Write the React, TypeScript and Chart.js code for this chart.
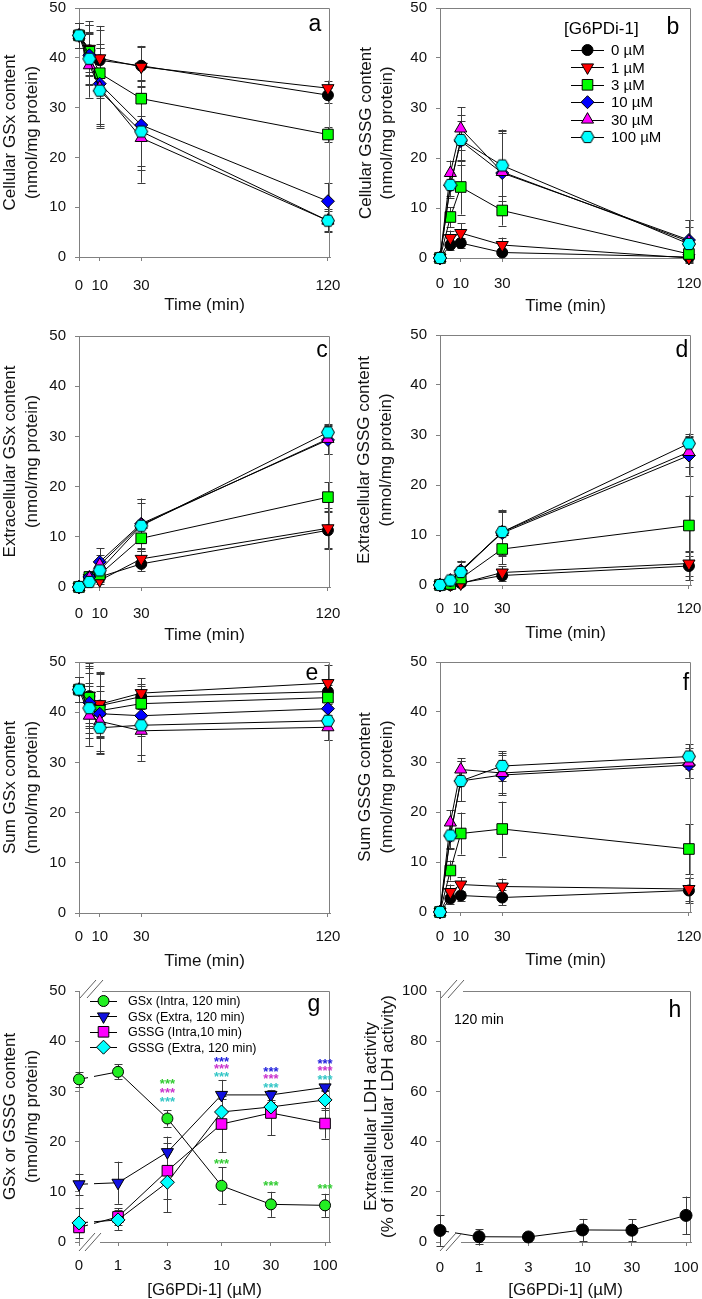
import React, { useEffect, useRef } from "react";
import { Chart, registerables } from "chart.js";

Chart.register(...registerables);

const FONT = "'Liberation Sans', Arial, Helvetica, sans-serif";
Chart.defaults.font.family = FONT;

// ---------- shared categories ----------
const TIMES = [0, 5, 10, 30, 120];
const TIME_TICKS = [0, 10, 30, 120];
const DOSE_LABELS = ["0 µM", "1 µM", "3 µM", "10 µM", "30 µM", "100 µM"];
const DOSE_COLORS = ["#000000", "#ff0000", "#00ff00", "#0000ff", "#ff00ff", "#00ffff"];
const CONC = [0, 1, 3, 10, 30, 100];
const CONC_TICK_LABELS = ["0", "1", "3", "10", "30", "100"];

// ---------- panel a: cellular GSx ----------
const A_MEAN = [
  [44.5, 41.5, 39.5, 38.4, 32.5],
  [44.5, 41.8, 39.9, 38.2, 33.9],
  [44.5, 41.2, 36.9, 31.8, 24.6],
  [44.5, 40.5, 34.8, 26.5, 11.2],
  [44.5, 38.5, 34.0, 23.9, 7.3],
  [44.5, 39.8, 33.4, 25.2, 7.3],
];
const A_SD = [
  [2.5, 5, 6, 4, 1.5],
  [2.5, 5.5, 6.5, 4, 1.5],
  [2.5, 4, 5, 3.5, 1.5],
  [2.5, 6, 8, 9, 3.7],
  [2.5, 6.5, 8, 9, 2.3],
  [2.5, 5, 7, 7, 2],
];

// ---------- panel b: cellular GSSG ----------
const B_MEAN = [
  [0, 2.6, 3.0, 1.1, 0.2],
  [0, 4.0, 5.0, 2.6, 0.0],
  [0, 8.2, 14.2, 9.5, 0.8],
  [0, 14.5, 23.4, 17.0, 3.6],
  [0, 17.0, 25.9, 17.2, 3.3],
  [0, 14.6, 23.6, 18.5, 2.8],
];
const B_SD = [
  [0, 1, 1, 0.5, 0.3],
  [0, 1.5, 2, 1.5, 0.5],
  [0, 2, 5.5, 3, 0.6],
  [0, 2, 4, 8, 4],
  [0, 2.5, 4.3, 8.5, 4.3],
  [0, 2.5, 5, 7, 3.5],
];

// ---------- panel c: extracellular GSx ----------
const C_MEAN = [
  [0, 1.8, 2.0, 4.6, 11.3],
  [0, 1.8, 1.3, 5.6, 11.7],
  [0, 2.0, 2.5, 9.7, 17.9],
  [0, 2.0, 5.0, 12.6, 29.3],
  [0, 1.8, 4.4, 12.4, 29.5],
  [0, 1.0, 3.3, 12.2, 30.8],
];
const C_SD = [
  [0, 0.5, 0.8, 1.5, 3.8],
  [0, 0.5, 0.8, 1.5, 4],
  [0, 0.8, 1.5, 2.5, 3],
  [0, 1, 2.7, 5, 2.8],
  [0, 1, 2, 5.2, 3],
  [0, 0.8, 2, 4.5, 1.5],
];

// ---------- panel d: extracellular GSSG ----------
const D_MEAN = [
  [0, 0.0, 0.4, 1.9, 3.8],
  [0, 0.1, 0.3, 2.5, 4.3],
  [0, 0.2, 1.3, 7.2, 11.9],
  [0, 0.9, 2.9, 10.4, 25.9],
  [0, 0.9, 2.8, 10.6, 26.6],
  [0, 0.9, 2.6, 10.6, 28.3],
];
const D_SD = [
  [0, 0.2, 0.3, 1, 2.8],
  [0, 0.2, 0.4, 1.2, 2.5],
  [0, 0.3, 1, 3, 6],
  [0, 0.5, 2, 4.5, 4],
  [0, 0.5, 2, 4.5, 3],
  [0, 0.5, 2, 4, 2],
];

// ---------- panel e: sum GSx ----------
const E_MEAN = [
  [44.5, 43.2, 41.3, 43.1, 44.1],
  [44.5, 43.3, 41.6, 43.8, 45.8],
  [44.5, 42.9, 40.3, 41.7, 42.9],
  [44.5, 41.9, 39.7, 39.3, 40.7],
  [44.5, 39.3, 38.2, 36.3, 37.0],
  [44.5, 40.8, 36.9, 37.4, 38.3],
];
const E_SD = [
  [2.5, 6, 6.5, 2.5, 2.5],
  [2.5, 6.5, 6.5, 3, 3.7],
  [2.5, 5, 5, 3.5, 2.5],
  [2.5, 7, 8, 4, 2.5],
  [2.5, 6, 6, 6, 2.5],
  [2.5, 5, 5, 6, 3.8],
];

// ---------- panel f: sum GSSG ----------
const F_MEAN = [
  [0, 2.7, 3.3, 2.9, 4.3],
  [0, 4.0, 5.5, 5.1, 4.6],
  [0, 8.3, 15.7, 16.6, 12.6],
  [0, 15.2, 26.2, 27.4, 29.4],
  [0, 17.9, 28.5, 27.8, 29.9],
  [0, 15.3, 26.2, 29.2, 31.1],
];
const F_SD = [
  [0, 1, 1, 1.5, 2.5],
  [0, 1.5, 1.5, 1.6, 2.3],
  [0, 2, 4.2, 5.5, 5],
  [0, 2.5, 4, 4, 2.5],
  [0, 2.5, 2.3, 4, 3],
  [0, 2.5, 4, 3, 2.5],
];

// ---------- panel g: concentration dependence ----------
const G_LABELS = ["GSx (Intra, 120 min)", "GSx (Extra, 120 min)", "GSSG (Intra,10 min)", "GSSG (Extra, 120 min)"];
const G_COLORS = ["#22ee22", "#1010e0", "#ff00ff", "#00ffff"];
const G_GSX_INTRA = [32.4, 33.9, 24.6, 11.2, 7.5, 7.3];
const G_GSX_INTRA_SD = [1.5, 1.5, 1.6, 3.7, 2.5, 2.3];
const G_GSX_EXTRA = [11.5, 11.8, 17.9, 29.3, 29.3, 30.8];
const G_GSX_EXTRA_SD = [2.1, 4.2, 3.1, 3.0, 1.0, 0.7];
const G_GSSG_INTRA = [2.9, 5.0, 14.2, 23.5, 25.7, 23.6];
const G_GSSG_INTRA_SD = [1.0, 1.7, 5.6, 5.6, 4.4, 3.0];
const G_GSSG_EXTRA = [3.8, 4.4, 11.9, 25.9, 26.9, 28.3];
const G_GSSG_EXTRA_SD = [3.0, 2.0, 6.0, 2.5, 1.0, 2.0];

const STAR_CONC = [3, 10, 30, 100];
const STAR_Y_GREEN = [31.9, 16.1, 11.6, 11.0];
const STAR_Y_MAGENTA = [30.2, 35.0, 32.9, 34.5];
const STAR_Y_CYAN = [28.5, 33.3, 31.1, 32.8];
const STAR_CONC_BLUE = [10, 30, 100];
const STAR_Y_BLUE = [36.4, 34.3, 36.0];

// ---------- panel h: LDH ----------
const H_LDH = [4.6, 2.1, 2.0, 4.8, 4.7, 10.6];
const H_LDH_SD = [6.0, 3.0, 0.6, 4.4, 4.4, 7.5];

// ---------- markers ----------
type Marker = { style: string; rot: number; radius: number };
const M_CIRCLE: Marker = { style: "circle", rot: 0, radius: 5.5 };
const M_DOWN: Marker = { style: "triangle", rot: 180, radius: 7 };
const M_UP: Marker = { style: "triangle", rot: 0, radius: 7 };
const M_SQUARE: Marker = { style: "rect", rot: 0, radius: 7.5 };
const M_DIAMOND: Marker = { style: "rectRot", rot: 0, radius: 6.5 };
const M_HEX: Marker = { style: "hex", rot: 0, radius: 6.5 };
const DOSE_MARKERS = [M_CIRCLE, M_DOWN, M_SQUARE, M_DIAMOND, M_UP, M_HEX];

const ZERO_POS = -0.377;
const logPos = (c: number) => (c === 0 ? ZERO_POS : Math.log10(c));

function makeHex(fill: string, r: number) {
  const s = Math.ceil(r * 2 + 3);
  const c = document.createElement("canvas");
  c.width = s;
  c.height = s;
  const ctx = c.getContext("2d")!;
  ctx.beginPath();
  for (let k = 0; k < 6; k++) {
    const a = (Math.PI / 3) * k;
    const px = s / 2 + r * Math.cos(a);
    const py = s / 2 + r * Math.sin(a);
    if (k) ctx.lineTo(px, py);
    else ctx.moveTo(px, py);
  }
  ctx.closePath();
  ctx.fillStyle = fill;
  ctx.fill();
  ctx.lineWidth = 1;
  ctx.strokeStyle = "#000";
  ctx.stroke();
  return c;
}

function drawMarker(ctx: CanvasRenderingContext2D, m: Marker, color: string, x: number, y: number) {
  if (m.style === "hex") {
    const img = makeHex(color, m.radius);
    ctx.drawImage(img, x - img.width / 2, y - img.height / 2);
    return;
  }
  ctx.save();
  ctx.translate(x, y);
  ctx.rotate((m.rot * Math.PI) / 180);
  ctx.beginPath();
  const r = m.radius;
  if (m.style === "circle") ctx.arc(0, 0, r, 0, Math.PI * 2);
  else if (m.style === "triangle") {
    for (let k = 0; k < 3; k++) {
      const a = (k * 2 * Math.PI) / 3;
      if (k) ctx.lineTo(Math.sin(a) * r, -Math.cos(a) * r);
      else ctx.moveTo(Math.sin(a) * r, -Math.cos(a) * r);
    }
    ctx.closePath();
  } else if (m.style === "rect") {
    const s = r * Math.SQRT1_2;
    ctx.rect(-s, -s, 2 * s, 2 * s);
  } else {
    ctx.moveTo(-r, 0);
    ctx.lineTo(0, -r);
    ctx.lineTo(r, 0);
    ctx.lineTo(0, r);
    ctx.closePath();
  }
  ctx.fillStyle = color;
  ctx.fill();
  ctx.strokeStyle = "#000";
  ctx.lineWidth = 1;
  ctx.stroke();
  ctx.restore();
}

// ---------- panel configs ----------
type Series = { label: string; color: string; marker: Marker; mean: number[]; sd: number[] };
type Panel = {
  id: string;
  col: number;
  area: number[]; // abs l, t, r, b
  xKind: "time" | "conc";
  yMax: number;
  yStep: number;
  yTitle: string[];
  yTitlePad: number;
  yTitleLH: number;
  xTitle: string;
  tickPad: number;
  series: Series[];
  letter: string;
  letterXY: number[];
  legend?: { title?: string; titleXY?: number[]; x0: number; x1: number; textX: number; y0: number; dy: number; font: number };
  breakAxis?: boolean;
  stars?: { conc: number[]; y: number[]; color: string }[];
  note?: { text: string; x: number; y: number };
};

const doseSeries = (means: number[][], sds: number[][]): Series[] =>
  means.map((m, i) => ({ label: DOSE_LABELS[i], color: DOSE_COLORS[i], marker: DOSE_MARKERS[i], mean: m, sd: sds[i] }));

const TIME_TITLE = "Time (min)";
const CONC_TITLE = "[G6PDi-1] (µM)";

const PANELS: Panel[] = [
  {
    id: "a", col: 0, area: [79, 8, 330, 257], xKind: "time", yMax: 50, yStep: 10,
    yTitle: ["Cellular GSx content", "(nmol/mg protein)"], yTitlePad: 0, yTitleLH: 1.25, tickPad: 16,
    xTitle: TIME_TITLE, series: doseSeries(A_MEAN, A_SD), letter: "a", letterXY: [315, 31],
  },
  {
    id: "b", col: 1, area: [440, 8, 691, 258], xKind: "time", yMax: 50, yStep: 10,
    yTitle: ["Cellular GSSG content", "(nmol/mg protein)"], yTitlePad: 4.4, yTitleLH: 1.25, tickPad: 13,
    xTitle: TIME_TITLE, series: doseSeries(B_MEAN, B_SD), letter: "b", letterXY: [673, 34],
    legend: { title: "[G6PDi-1]", titleXY: [564, 29], x0: 571, x1: 604, textX: 611, y0: 50, dy: 17.4, font: 15 },
  },
  {
    id: "c", col: 0, area: [79, 336, 330, 587], xKind: "time", yMax: 50, yStep: 10,
    yTitle: ["Extracellular GSx content", "(nmol/mg protein)"], yTitlePad: 0, yTitleLH: 1.25, tickPad: 14,
    xTitle: TIME_TITLE, series: doseSeries(C_MEAN, C_SD), letter: "c", letterXY: [322, 357],
  },
  {
    id: "d", col: 1, area: [440, 335, 691, 585], xKind: "time", yMax: 50, yStep: 10,
    yTitle: ["Extracellular GSSG content", "(nmol/mg protein)"], yTitlePad: 3, yTitleLH: 1.25, tickPad: 11,
    xTitle: TIME_TITLE, series: doseSeries(D_MEAN, D_SD), letter: "d", letterXY: [682, 357],
  },
  {
    id: "e", col: 0, area: [79, 662, 330, 913], xKind: "time", yMax: 50, yStep: 10,
    yTitle: ["Sum GSx content", "(nmol/mg protein)"], yTitlePad: 0, yTitleLH: 1.25, tickPad: 11,
    xTitle: TIME_TITLE, series: doseSeries(E_MEAN, E_SD), letter: "e", letterXY: [312, 680],
  },
  {
    id: "f", col: 1, area: [440, 662, 691, 912], xKind: "time", yMax: 50, yStep: 10,
    yTitle: ["Sum GSSG content", "(nmol/mg protein)"], yTitlePad: 4, yTitleLH: 1.25, tickPad: 12,
    xTitle: TIME_TITLE, series: doseSeries(F_MEAN, F_SD), letter: "f", letterXY: [686, 690],
  },
  {
    id: "g", col: 0, area: [79, 991, 330, 1242], xKind: "conc", yMax: 50, yStep: 10,
    yTitle: ["GSx or GSSG content", "(nmol/mg protein)"], yTitlePad: 0, yTitleLH: 1.25, tickPad: 11,
    xTitle: CONC_TITLE,
    series: [
      { label: G_LABELS[0], color: G_COLORS[0], marker: M_CIRCLE, mean: G_GSX_INTRA, sd: G_GSX_INTRA_SD },
      { label: G_LABELS[1], color: G_COLORS[1], marker: M_DOWN, mean: G_GSX_EXTRA, sd: G_GSX_EXTRA_SD },
      { label: G_LABELS[2], color: G_COLORS[2], marker: M_SQUARE, mean: G_GSSG_INTRA, sd: G_GSSG_INTRA_SD },
      { label: G_LABELS[3], color: G_COLORS[3], marker: { style: "rectRot", rot: 0, radius: 7 }, mean: G_GSSG_EXTRA, sd: G_GSSG_EXTRA_SD },
    ],
    letter: "g", letterXY: [314, 1011],
    legend: { x0: 90, x1: 117, textX: 128, y0: 1001, dy: 15.4, font: 12.5 },
    breakAxis: true,
    stars: [
      { conc: STAR_CONC, y: STAR_Y_GREEN, color: "#33cc33" },
      { conc: STAR_CONC, y: STAR_Y_MAGENTA, color: "#cc33cc" },
      { conc: STAR_CONC, y: STAR_Y_CYAN, color: "#33c6c6" },
      { conc: STAR_CONC_BLUE, y: STAR_Y_BLUE, color: "#2222dd" },
    ],
  },
  {
    id: "h", col: 1, area: [440, 991, 691, 1242], xKind: "conc", yMax: 100, yStep: 20,
    yTitle: ["Extracellular LDH activity", "(% of initial cellular LDH activity)"], yTitlePad: 11.5, yTitleLH: 1.0, tickPad: 13,
    xTitle: CONC_TITLE,
    series: [{ label: "LDH", color: "#000000", marker: { style: "circle", rot: 0, radius: 6 }, mean: H_LDH, sd: H_LDH_SD }],
    letter: "h", letterXY: [675, 1017],
    breakAxis: true,
    note: { text: "120 min", x: 454, y: 1020 },
  },
];

const PAD_T = 20;
const X_H = 66;

function geom(p: Panel) {
  const [L, T, R, B] = p.area;
  const cLeft = p.col * 351;
  const cTop = T - PAD_T;
  const W = 351;
  const H = B - T + PAD_T + X_H;
  return { L, T, R, B, cLeft, cTop, W, H };
}

function makePlugin(p: Panel) {
  const g = geom(p);
  const xs = p.xKind === "time" ? TIMES : CONC.map(logPos);
  return {
    id: "deco_" + p.id,
    beforeDatasetsDraw(chart: any) {
      const ctx = chart.ctx as CanvasRenderingContext2D;
      const xS = chart.scales.x;
      const yS = chart.scales.y;
      ctx.save();
      ctx.strokeStyle = "#3c3c3c";
      ctx.lineWidth = 1;
      p.series.forEach((s) => {
        s.mean.forEach((m, j) => {
          const sd = s.sd[j];
          if (!sd) return;
          const x = Math.round(xS.getPixelForValue(xs[j])) + 0.5;
          const y1 = yS.getPixelForValue(m + sd);
          const y2 = yS.getPixelForValue(m - sd);
          ctx.beginPath();
          ctx.moveTo(x, y1);
          ctx.lineTo(x, y2);
          ctx.moveTo(x - 4, Math.round(y1) + 0.5);
          ctx.lineTo(x + 4, Math.round(y1) + 0.5);
          ctx.moveTo(x - 4, Math.round(y2) + 0.5);
          ctx.lineTo(x + 4, Math.round(y2) + 0.5);
          ctx.stroke();
        });
      });
      // frame (top + right)
      const a = chart.chartArea;
      ctx.strokeStyle = "#808080";
      ctx.beginPath();
      const tY = Math.round(a.top) + 0.5;
      const rX = Math.round(a.right) - 0.5;
      ctx.moveTo(a.left, tY);
      ctx.lineTo(rX, tY);
      ctx.lineTo(rX, a.bottom);
      ctx.stroke();
      ctx.restore();
    },
    afterDraw(chart: any) {
      const ctx = chart.ctx as CanvasRenderingContext2D;
      const a = chart.chartArea;
      const ox = g.cLeft;
      const oy = g.cTop;
      ctx.save();
      if (p.breakAxis) {
        const l = a.left;
        const t = a.top;
        const b = a.bottom;
        ctx.fillStyle = "#ffffff";
        ctx.fillRect(l + 9, t - 2, 6, b - t + 4);
        ctx.fillRect(l + 1, t - 2, 22, 4);
        ctx.fillRect(l + 1, b - 2, 20, 4);
        ctx.strokeStyle = "#606060";
        ctx.lineWidth = 1;
        const slash = (x: number, y: number) => {
          ctx.beginPath();
          ctx.moveTo(x - 8, y + 9);
          ctx.lineTo(x + 8, y - 9);
          ctx.stroke();
        };
        slash(l + 9, t - 2);
        slash(l + 16, t - 2);
        slash(l + 8, b);
        slash(l + 14, b);
      }
      // legend
      if (p.legend) {
        const lg = p.legend;
        ctx.fillStyle = "#000";
        ctx.textBaseline = "middle";
        ctx.textAlign = "left";
        if (lg.title && lg.titleXY) {
          ctx.font = `17px ${FONT}`;
          ctx.fillText(lg.title, lg.titleXY[0] - ox, lg.titleXY[1] - oy);
        }
        p.series.forEach((s, i) => {
          const y = lg.y0 + i * lg.dy - oy;
          ctx.strokeStyle = "#000";
          ctx.lineWidth = 1;
          ctx.beginPath();
          ctx.moveTo(lg.x0 - ox, Math.round(y) + 0.5);
          ctx.lineTo(lg.x1 - ox, Math.round(y) + 0.5);
          ctx.stroke();
          drawMarker(ctx, s.marker, s.color, (lg.x0 + lg.x1) / 2 - ox, y);
          ctx.fillStyle = "#000";
          ctx.font = `${lg.font}px ${FONT}`;
          ctx.fillText(s.label, lg.textX - ox, y + 1);
        });
      }
      // stars
      if (p.stars) {
        const xS = chart.scales.x;
        const yS = chart.scales.y;
        ctx.font = `bold 13px ${FONT}`;
        ctx.textAlign = "center";
        ctx.textBaseline = "middle";
        p.stars.forEach((st) => {
          ctx.fillStyle = st.color;
          st.conc.forEach((c, k) => {
            ctx.fillText("***", xS.getPixelForValue(logPos(c)), yS.getPixelForValue(st.y[k]) + 3);
          });
        });
      }
      if (p.note) {
        ctx.fillStyle = "#000";
        ctx.font = `14px ${FONT}`;
        ctx.textAlign = "left";
        ctx.textBaseline = "middle";
        ctx.fillText(p.note.text, p.note.x - ox, p.note.y - oy);
      }
      // panel letter
      ctx.fillStyle = "#000";
      ctx.font = `23px ${FONT}`;
      ctx.textAlign = "center";
      ctx.textBaseline = "alphabetic";
      ctx.fillText(p.letter, p.letterXY[0] - ox, p.letterXY[1] - oy);
      ctx.restore();
    },
  };
}

function buildChart(canvas: HTMLCanvasElement, p: Panel) {
  const g = geom(p);
  const xs = p.xKind === "time" ? TIMES : CONC.map(logPos);
  const xMin = p.xKind === "time" ? 0 : ZERO_POS;
  const xMax = p.xKind === "time" ? 121 : 2.048;
  const tickVals = p.xKind === "time" ? TIME_TICKS : CONC.map(logPos);
  const tickLabels = p.xKind === "time" ? TIME_TICKS.map(String) : CONC_TICK_LABELS;
  const n = p.series.length;
  const datasets = p.series.map((s, i) => ({
    label: s.label,
    data: s.mean.map((v, j) => ({ x: xs[j], y: v })),
    borderColor: "#000000",
    borderWidth: 1,
    pointStyle: s.marker.style === "hex" ? makeHex(s.color, s.marker.radius) : s.marker.style,
    pointRotation: s.marker.rot,
    pointRadius: s.marker.radius,
    pointHoverRadius: s.marker.radius,
    pointBackgroundColor: s.color,
    pointBorderColor: "#000000",
    pointBorderWidth: 1,
    tension: 0,
    fill: false,
    clip: false,
    order: n - 1 - i,
  }));
  const gridCfg = { display: true, drawOnChartArea: false, drawTicks: true, tickLength: 4, color: "#808080" };
  const borderCfg = { display: true, color: "#808080", width: 1 };
  return new Chart(canvas, {
    type: "line",
    data: { datasets },
    options: {
      animation: false,
      responsive: false,
      maintainAspectRatio: false,
      devicePixelRatio: 1,
      events: [],
      layout: { padding: { left: 0, top: PAD_T, right: g.W - (g.R - g.cLeft), bottom: 0 } },
      plugins: { legend: { display: false }, tooltip: { enabled: false }, title: { display: false } },
      scales: {
        x: {
          type: "linear",
          min: xMin,
          max: xMax,
          afterFit: (s: any) => {
            s.height = X_H;
            s.paddingLeft = 0;
            s.paddingRight = 0;
          },
          afterBuildTicks: (s: any) => {
            s.ticks = tickVals.map((v) => ({ value: v }));
          },
          ticks: {
            autoSkip: false,
            maxRotation: 0,
            padding: p.tickPad,
            color: "#111",
            font: { size: 15, family: FONT },
            callback: (_v: any, i: number) => tickLabels[i],
          },
          grid: gridCfg,
          border: borderCfg,
          title: {
            display: true,
            text: p.xTitle,
            color: "#111",
            font: { size: 17, family: FONT, lineHeight: 1.2 },
            padding: { top: 0, bottom: 7 },
          },
        },
        y: {
          type: "linear",
          min: 0,
          max: p.yMax,
          afterFit: (s: any) => {
            s.width = g.L - g.cLeft;
            s.paddingTop = 0;
            s.paddingBottom = 0;
          },
          ticks: {
            stepSize: p.yStep,
            padding: 9,
            color: "#111",
            font: { size: 15, family: FONT },
          },
          grid: gridCfg,
          border: borderCfg,
          title: {
            display: true,
            text: p.yTitle,
            color: "#111",
            font: { size: 17, family: FONT, lineHeight: p.yTitleLH },
            padding: { top: p.yTitlePad, bottom: 0 },
          },
        },
      },
    },
    plugins: [makePlugin(p)],
  } as any);
}

function PanelChart({ p }: { p: Panel }) {
  const ref = useRef<HTMLCanvasElement | null>(null);
  const g = geom(p);
  useEffect(() => {
    const chart = buildChart(ref.current!, p);
    return () => chart.destroy();
  }, []);
  return (
    <canvas
      ref={ref}
      width={g.W}
      height={g.H}
      style={{ position: "absolute", left: g.cLeft, top: g.cTop, width: g.W, height: g.H }}
    />
  );
}

export default function App() {
  return (
    <div
      style={{
        position: "absolute",
        left: 0,
        top: 0,
        width: 702,
        height: 1299,
        overflow: "hidden",
        background: "#ffffff",
      }}
    >
      {PANELS.map((p) => (
        <PanelChart key={p.id} p={p} />
      ))}
    </div>
  );
}
